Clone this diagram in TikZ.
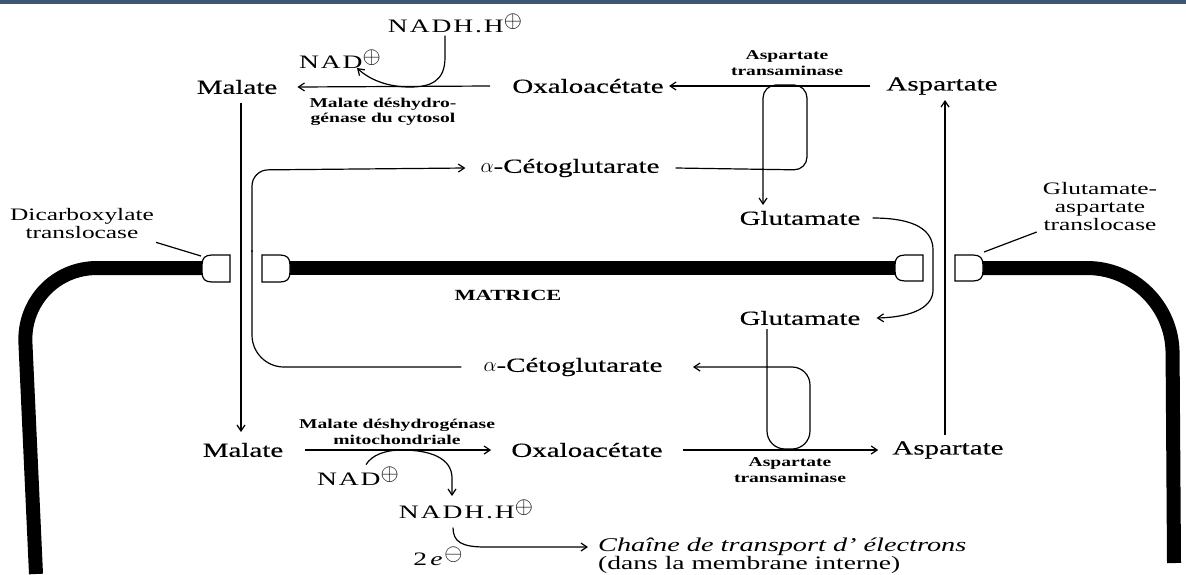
\documentclass[tikz,border=0pt]{standalone}
\usepackage{fontspec}
\usepackage{graphicx}
\setmainfont{Liberation Serif}[FakeStretch=1.45]
\newfontfamily\heavy{Liberation Serif}[FakeStretch=1.45, FakeBold=0.4]
\newfontfamily\spaced{Liberation Serif}[FakeStretch=1.45, LetterSpace=10]
\usetikzlibrary{arrows.meta}
\definecolor{topbar}{HTML}{3F5672}
\newcommand{\opl}{\raisebox{.55ex}{\scalebox{1.35}{$\oplus$}}}
\newcommand{\omi}{\raisebox{.55ex}{\scalebox{1.35}{$\ominus$}}}
\begin{document}
\begin{tikzpicture}[x=1pt,y=-1pt,
  lbl/.style={inner sep=0pt, font=\heavy\fontsize{20}{22}\selectfont},
  nad/.style={inner sep=0pt, font=\spaced\fontsize{19}{21}\selectfont},
  enz/.style={inner sep=0pt, align=center, font=\bfseries\fontsize{13.5}{15.5}\selectfont},
  tl/.style={inner sep=0pt, align=center, font=\fontsize{17.5}{18}\selectfont},
  ln/.style={line width=1.2pt},
  arr/.style={ln, -{Straight Barb[length=6pt,width=8pt]}},
  mem/.style={line width=14pt},
  port/.style={line width=1.2pt, fill=white},
  ]
\useasboundingbox (0,0) rectangle (1186,574);
\fill[topbar] (0,0) rectangle (1186,3.5);

% membranes
\draw[mem, rounded corners=75] (36,574) -- (22,268) -- (204,268);
\draw[mem] (288,268) -- (897,268);
\draw[mem, rounded corners=85] (981,268) -- (1172,268) -- (1174,563);
% translocase ports
\draw[port] (230,255) -- (212,255) .. controls (205,255) and (202,258) .. (202,265) -- (202,272) .. controls (202,279) and (205,282) .. (212,282) -- (230,282) -- cycle;
\draw[port] (262,255) -- (280,255) .. controls (287,255) and (290,258) .. (290,265) -- (290,272) .. controls (290,279) and (287,282) .. (280,282) -- (262,282) -- cycle;
\draw[port] (923,255) -- (905,255) .. controls (898,255) and (895,258) .. (895,265) -- (895,271) .. controls (895,278) and (898,281) .. (905,281) -- (923,281) -- cycle;
\draw[port] (955,255) -- (973,255) .. controls (980,255) and (983,258) .. (983,265) -- (983,271) .. controls (983,278) and (980,281) .. (973,281) -- (955,281) -- cycle;

% nodes
\node[nad] (nadh1) at (455,23) {NADH.H\opl};
\node[nad] (nad1) at (340,59) {NAD\opl};
\node[lbl] (mal1) at (237,87) {Malate};
\node[lbl] (oxa1) at (588,86) {Oxaloacétate};
\node[lbl] (asp1) at (942,86) {Aspartate};
\node[enz] (mdh1) at (383,112) {Malate déshydro-\\génase du cytosol};
\node[enz] (at1) at (787,63) {Aspartate\\transaminase};
\node[lbl] (akg1) at (570,168) {$\alpha$-Cétoglutarate};
\node[lbl] (glu1) at (800,218) {Glutamate};
\node[tl] (dct) at (82,224) {Dicarboxylate\\translocase};
\node[tl] (gat) at (1100,207) {Glutamate-\\aspartate\\translocase};
\node[inner sep=0pt, font=\bfseries\fontsize{15.5}{17}\selectfont] (matrice) at (508,295) {MATRICE};
\node[lbl] (glu2) at (800,318) {Glutamate};
\node[lbl] (akg2) at (573,367) {$\alpha$-Cétoglutarate};
\node[enz] (mdh2) at (397,432) {Malate déshydrogénase\\mitochondriale};
\node[lbl] (mal2) at (243,450) {Malate};
\node[lbl] (oxa2) at (587,450) {Oxaloacétate};
\node[lbl] (asp2) at (948,450) {Aspartate};
\node[enz] (at2) at (790,470) {Aspartate\\transaminase};
\node[nad] (nad2) at (358,476) {NAD\opl};
\node[nad] (nadh2) at (466,509) {NADH.H\opl};
\node[nad] (elec) at (438,556) {2\,\textit{e}\omi};
\node[inner sep=0pt, anchor=west, font=\itshape\fontsize{19.5}{21}\selectfont] (chain) at (598,547) {Chaîne de transport d' électrons};
\node[inner sep=0pt, anchor=west, font=\fontsize{19}{21}\selectfont] (dans) at (598,565) {(dans la membrane interne)};

% cytosol reactions
\draw[arr] ([xshift=-22pt]oxa1.west) -- ([xshift=20pt]mal1.east);
\draw[arr] (nadh1.south) ++(-10,3) -- ++(0,22) .. controls +(0,24) and (430,87) .. (410,87) .. controls (388,87) and (370,80) .. (357,68);
\draw[arr] ([xshift=-16pt]asp1.west) -- ([xshift=-18pt]oxa1.east -| 687,86);
\draw[arr, rounded corners=13] ([xshift=16pt]akg1.east) -- (807,170) -- (807,85) -- (763,85) -- (763,205);

% translocations
\draw[arr] (mal1.south) ++(4,9) -- (241,432);
\draw[ln, rounded corners=32] ([xshift=-22pt]akg2.west) -- (252,367) -- (252,250);
\draw[arr, rounded corners=16] (252,252) -- (252,170) -- ([xshift=-15pt]akg1.west);
\draw[arr] ([xshift=12pt]glu1.east) .. controls (915,218) and (933,230) .. (933,250) -- (933,290) .. controls (933,306) and (915,317) .. ([xshift=16pt]glu2.east);
\draw[arr] (asp2.north) ++(-3,-6) -- (945,100);

% matrix reactions
\draw[arr] ([xshift=22pt]mal2.east) -- ([xshift=-20pt]oxa2.west);
\draw[arr] (nad2.north) ++(8,-2) .. controls (372,455) and (385,450) .. (402,450) .. controls (430,450) and (452,458) .. (452,478) -- (452,496);
\draw[arr] ([xshift=20pt]oxa2.east) -- ([xshift=-14pt]asp2.west);
\draw[arr, rounded corners=18] (glu2.south) ++(-33,4) -- (767,449) -- (810,449) -- (810,367) -- (693,367);
\draw[arr] (nadh2.south) ++(-13,9) .. controls (453,542) and (462,547) .. (485,547) -- ([xshift=-10pt]chain.west);

% translocase pointers
\draw[ln] (dct.south east) ++(2,3) -- (201,256);
\draw[ln] (gat.west) ++(-6,25) -- (984,252);
\end{tikzpicture}
\end{document}
